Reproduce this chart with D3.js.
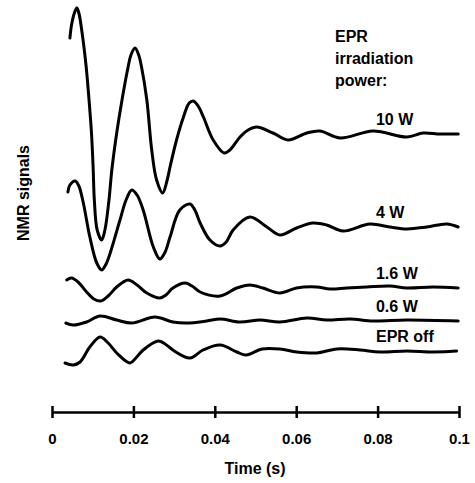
<!DOCTYPE html>
<html>
<head>
<meta charset="utf-8">
<script src="https://cdnjs.cloudflare.com/ajax/libs/d3/7.8.5/d3.min.js"></script>
<style>
body { margin: 0; background: #fff; }
text { font-family: "Liberation Sans", Arial, sans-serif; font-weight: bold; fill: #000; }
</style>
</head>
<body>
<script>
// time in ms, signal in arbitrary units (relative to each trace baseline)
var t10W = [4.4,4.8,5.5,6.1,6.6,7.4,8.4,9.1,9.7,10.1,10.4,11.1,12.2,13.0,14.0,14.7,15.9,17.2,18.7,19.4,20.4,21.3,22.0,23.3,24.5,25.7,27.2,28.3,29.0,30.6,32.3,33.7,34.7,35.9,37.2,39.6,42.3,43.7,46.2,48.2,50.3,54.3,58.0,62.6,65.8,70.8,78.9,87.2,91.2,95.3,99.8]
var v10W = [9.6,10.9,12.1,12.6,12.1,10.1,6.7,3.4,0.1,-3.3,-6.6,-9.6,-10.6,-9.6,-6.6,-3.6,0.1,3.4,6.7,7.9,8.6,7.9,6.7,3.4,-1.6,-4.6,-5.9,-4.6,-3.3,-0.6,1.7,3.1,3.3,2.8,1.7,-0.6,-1.9,-1.6,-0.3,0.4,0.7,0.1,-0.6,0.1,0.3,-0.4,0.3,-0.3,0.1,0,0]

var t4W = [3.9,4.4,5.7,6.6,7.7,9.3,11.0,12.2,13.3,14.3,16.7,18.2,19.6,20.9,22.4,24.9,26.5,27.8,29.0,31.4,33.9,35.1,36.4,38.8,41.3,42.8,44.5,48.6,52.8,56.0,60.1,64.1,67.5,71.5,78.1,83.0,87.2,92.1,97.0,99.8]
var v4W = [3.5,4.2,4.6,4.1,2.4,-1.0,-3.6,-4.3,-3.7,-2.6,0.7,2.7,3.7,3.2,1.7,-2.0,-3.2,-2.5,-1.0,1.7,2.3,1.7,0.4,-1.3,-1.9,-1.5,-0.3,1.0,0,-0.8,-0.1,0.4,0.2,-0.4,0.3,0,-0.2,0,0.3,0]

var t16W = [3.6,4.8,6.4,8.5,10.3,12.0,13.8,15.9,18.7,20.9,23.3,26.5,28.0,29.7,32.7,34.4,36.4,41.3,45.4,48.6,51.8,56.0,60.1,65.0,68.3,72.4,77.3,83.0,87.2,93.6,99.8]
var v16W = [0.8,1.0,0.6,-0.4,-1.1,-1.3,-0.8,0.1,0.8,0.3,-0.5,-1.0,-0.7,0,0.5,0.2,-0.4,-0.8,0,0.3,0,-0.5,0,0.1,-0.1,0,0.1,0.2,0,0.1,0]

var t06W = [3.4,5.2,8.5,11.8,15.9,19.6,25.3,29.7,33.1,38.0,41.3,46.2,51.1,56.0,62.6,67.5,73.2,78.9,87.2,99.8]
var v06W = [-0.2,-0.4,-0.1,0.5,0.1,-0.2,0.4,-0.1,-0.2,0,0.2,-0.1,0.1,-0.1,0.3,0.1,0.2,0,0.1,0]

var tOff = [3.2,5.2,6.9,9.3,11.8,13.8,15.9,19.2,20.6,22.4,26.1,27.8,29.7,33.9,37.1,41.3,45.4,47.7,51.6,56.0,60.1,65.0,70.0,75.7,80.6,87.2,93.6,99.4]
var vOff = [-1.2,-1.4,-1.1,0.4,1.4,0.8,-0.2,-1.2,-0.7,0.1,1.0,0.7,0.1,-0.7,0.1,0.6,-0.1,-0.4,0.2,0.2,-0.1,-0.2,0.2,0.1,-0.1,0,-0.1,0]

var seriesNames = ["10 W", "4 W", "1.6 W", "0.6 W", "EPR off"]
var seriesTimes = [t10W, t4W, t16W, t06W, tOff]
var seriesValues = [v10W, v4W, v16W, v06W, vOff]
var offsets = [27.8, 18.5, 12.4, 9.1, 6.1]   // vertical shift of each trace

var tickValues = [0, 0.02, 0.04, 0.06, 0.08, 0.1]
var tickLabels = ["0", "0.02", "0.04", "0.06", "0.08", "0.1"]
var legendTitle = ["EPR", "irradiation", "power:"]

var W = 475, H = 483

var svg = d3.select("body").append("svg")
    .attr("width", W)
    .attr("height", H)

var x = d3.scaleLinear().domain([0, 0.1]).range([52, 459])
var y = d3.scaleLinear().domain([0, 41.2]).range([412, 0])

var line = d3.line()
    .x(function(d) { return x(d[0]) })
    .y(function(d) { return y(d[1]) })
    .curve(d3.curveCatmullRom.alpha(0.5))

//draw the traces
seriesNames.forEach(function(name, i) {
    var pts = seriesTimes[i].map(function(t, j) {
        return [t / 1000, seriesValues[i][j] + offsets[i]]
    })
    svg.append("path")
        .attr("d", line(pts))
        .attr("fill", "none")
        .attr("stroke", "#000")
        .attr("stroke-width", 3)
        .attr("stroke-linejoin", "round")
        .attr("stroke-linecap", "round")

    svg.append("text")
        .attr("x", x(0.0796))
        .attr("y", y(offsets[i]) - 9)
        .attr("font-size", 16)
        .text(name)
})

//legend title
legendTitle.forEach(function(s, i) {
    svg.append("text")
        .attr("x", 335)
        .attr("y", 42 + i * 22)
        .attr("font-size", 16)
        .text(s)
})

//x axis
var axis = d3.axisBottom(x)
    .tickValues(tickValues)
    .tickFormat(function(d, i) { return tickLabels[i] })
    .tickSizeOuter(0)

var gx = svg.append("g")
    .attr("transform", "translate(0,412)")
    .call(axis)

gx.select(".domain").attr("stroke", "#000").attr("stroke-width", 2.5)
gx.selectAll(".tick line")
    .attr("y1", -6).attr("y2", 6)
    .attr("stroke", "#000").attr("stroke-width", 2.5)
gx.selectAll(".tick text")
    .attr("y", 32).attr("dy", 0)
    .attr("font-size", 15)
    .attr("font-family", "Liberation Sans, Arial, sans-serif")
    .attr("font-weight", "bold")

svg.append("text")
    .attr("x", 255)
    .attr("y", 474)
    .attr("text-anchor", "middle")
    .attr("font-size", 16)
    .text("Time (s)")

svg.append("text")
    .attr("transform", "translate(29,193) rotate(-90)")
    .attr("text-anchor", "middle")
    .attr("font-size", 16)
    .text("NMR signals")
</script>
</body>
</html>
